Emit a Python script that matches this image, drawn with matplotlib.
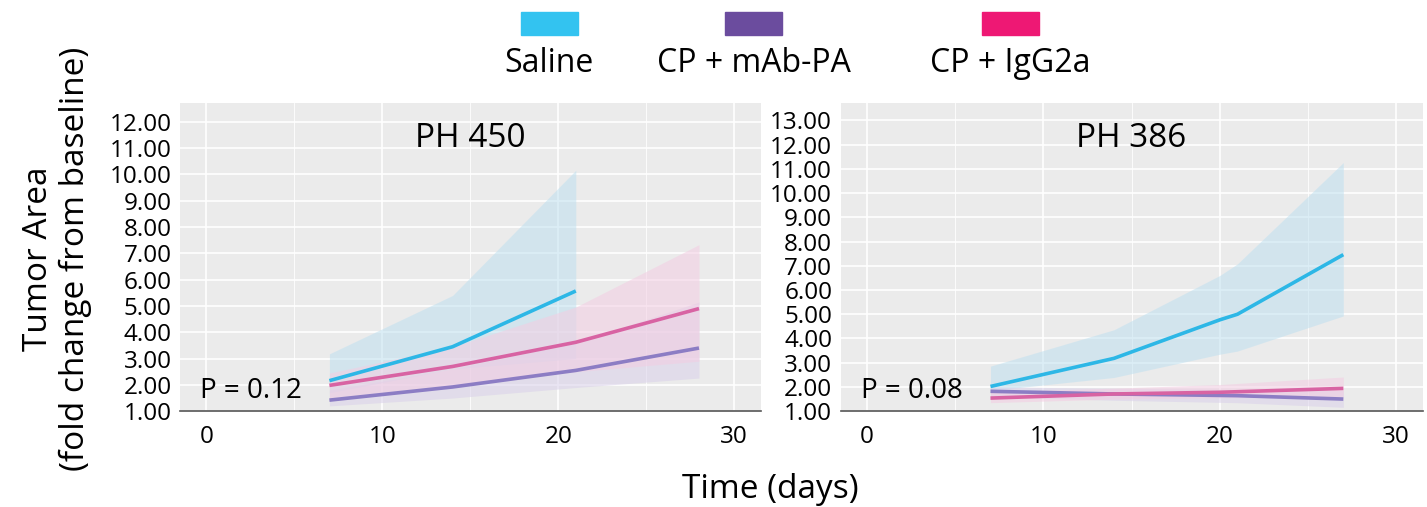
import matplotlib.pyplot as plt
import matplotlib.patches as mpatches
import numpy as np

plt.rcParams['font.family'] = ['Open Sans', 'DejaVu Sans']

groups = ["Saline", "CP + mAb-PA", "CP + IgG2a"]
legend_colors = ["#33C3F0", "#6B4C9E", "#EE1874"]
line_colors = ["#2DB7E6", "#8C7DC4", "#D863A3"]
band_colors = ["#BFE0F0", "#D9D0EA", "#F3CDE2"]

# PH 450
days_450 = {
    "Saline": [7, 14, 21],
    "CP + mAb-PA": [7, 14, 21, 28],
    "CP + IgG2a": [7, 14, 21, 28],
}
mean_450 = {
    "Saline": [2.16, 3.45, 5.57],
    "CP + mAb-PA": [1.42, 1.92, 2.55, 3.40],
    "CP + IgG2a": [1.98, 2.70, 3.62, 4.90],
}
low_450 = {
    "Saline": [1.7, 2.6, 3.0],
    "CP + mAb-PA": [1.2, 1.5, 1.9, 2.26],
    "CP + IgG2a": [1.5, 2.0, 2.5, 2.9],
}
high_450 = {
    "Saline": [3.18, 5.40, 10.16],
    "CP + mAb-PA": [1.8, 2.6, 3.6, 5.15],
    "CP + IgG2a": [2.45, 3.45, 4.96, 7.33],
}

# PH 386
days_386 = {
    "Saline": [7, 14, 20, 21, 27],
    "CP + mAb-PA": [7, 14, 21, 27],
    "CP + IgG2a": [7, 14, 20, 27],
}
mean_386 = {
    "Saline": [2.02, 3.18, 4.77, 5.00, 7.46],
    "CP + mAb-PA": [1.82, 1.71, 1.64, 1.50],
    "CP + IgG2a": [1.54, 1.71, 1.78, 1.94],
}
low_386 = {
    "Saline": [1.85, 2.39, 3.35, 3.48, 4.93],
    "CP + mAb-PA": [1.6, 1.45, 1.35, 1.16],
    "CP + IgG2a": [1.35, 1.5, 1.55, 1.6],
}
high_386 = {
    "Saline": [2.86, 4.36, 6.6, 7.08, 11.26],
    "CP + mAb-PA": [2.0, 1.95, 1.9, 1.85],
    "CP + IgG2a": [1.8, 1.95, 2.1, 2.41],
}

panels = [
    ("PH 450", "P = 0.12", days_450, mean_450, low_450, high_450, 12),
    ("PH 386", "P = 0.08", days_386, mean_386, low_386, high_386, 13),
]

fig = plt.figure(figsize=(14.27, 5.07), dpi=100)
ax_pos = [[0.126, 0.189, 0.407, 0.607], [0.589, 0.189, 0.408, 0.607]]

for pos, (title, ptext, days, mean, low, high, ymax) in zip(ax_pos, panels):
    ax = fig.add_axes(pos)
    ax.set_facecolor("#EBEBEB")
    for g, lc, bc in zip(groups, line_colors, band_colors):
        ax.fill_between(days[g], low[g], high[g], color=bc, alpha=0.55, lw=0)
    for g, lc in zip(groups, line_colors):
        ax.plot(days[g], mean[g], color=lc, lw=2.6, solid_capstyle='butt')
    ax.set_xlim(-1.5, 31.5)
    ax.set_ylim(1, ymax + 0.7)
    ax.set_xticks([0, 10, 20, 30])
    ax.set_xticks([5, 15, 25], minor=True)
    ax.set_yticks(np.arange(1, ymax + 1))
    ax.set_yticklabels([f"{v:.2f}" for v in np.arange(1, ymax + 1)])
    ax.grid(which='major', color='white', lw=1.2)
    ax.grid(which='minor', axis='x', color='white', lw=0.6)
    ax.set_axisbelow(True)
    for s in ["top", "right", "left"]:
        ax.spines[s].set_visible(False)
    ax.spines["bottom"].set_color("#555555")
    ax.spines["bottom"].set_linewidth(1.2)
    ax.tick_params(which='both', length=0, labelsize=17.5, pad=6)
    ax.tick_params(axis='x', pad=10)
    ax.text(0.5, 0.94, title, transform=ax.transAxes, ha='center', va='top', fontsize=24)
    ax.text(0.035, 0.02, ptext, transform=ax.transAxes, ha='left', va='bottom', fontsize=20)

fig.text(0.04, 0.49, "Tumor Area\n(fold change from baseline)", rotation=90,
         ha='center', va='center', fontsize=24, linespacing=1.15)
fig.text(0.54, 0.035, "Time (days)", ha='center', va='center', fontsize=24)

# legend on top
leg_x = [0.385, 0.528, 0.708]
for x, c, g in zip(leg_x, legend_colors, groups):
    fig.add_artist(mpatches.Rectangle((x - 0.02, 0.93), 0.04, 0.046, color=c,
                                      transform=fig.transFigure))
    fig.text(x, 0.875, g, ha='center', va='center', fontsize=23)

plt.savefig("out.png", dpi=100)
